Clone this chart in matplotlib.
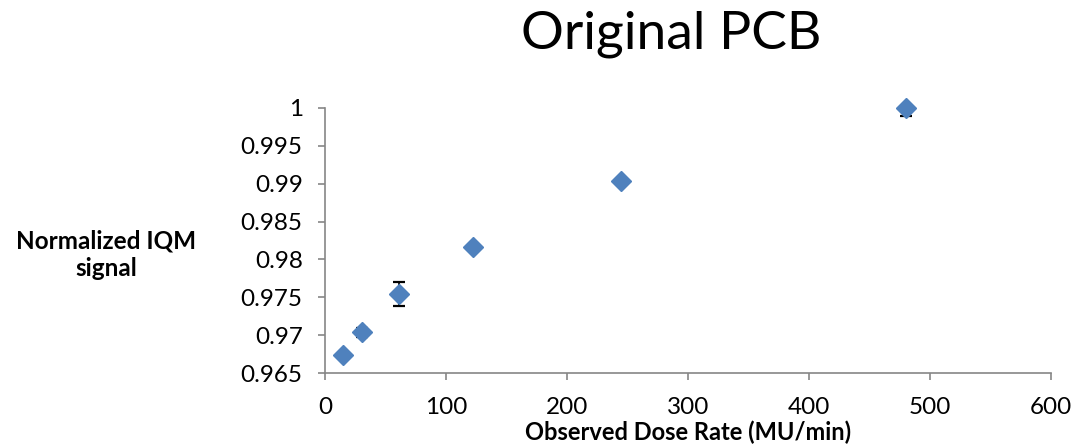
import matplotlib
matplotlib.use("Agg")
import matplotlib.pyplot as plt

dose_rate = [15, 30.5, 61, 122, 245, 480]
iqm_signal = [0.9674, 0.9704, 0.9754, 0.9816, 0.9904, 1.0]
iqm_err = [0.0001, 0.0006, 0.0016, 0.0002, 0.0002, 0.0011]
x_ticks = [0, 100, 200, 300, 400, 500, 600]
y_ticks = [0.965, 0.97, 0.975, 0.98, 0.985, 0.99, 0.995, 1.0]
y_tick_labels = ["0.965", "0.97", "0.975", "0.98", "0.985", "0.99", "0.995", "1"]

plt.rcParams['font.family'] = ['Lato', 'DejaVu Sans']

fig = plt.figure(figsize=(10.8, 4.44), dpi=100)
ax = fig.add_axes([0.3009, 0.1599, 0.6722, 0.5969])

ax.errorbar(dose_rate, iqm_signal, yerr=iqm_err, fmt='none', ecolor='black',
            elinewidth=1.2, capsize=4.5, capthick=1.6, zorder=2)
ax.plot(dose_rate, iqm_signal, linestyle='none', marker='D', markersize=10,
        color='#4F81BD', markeredgecolor='#4F81BD', zorder=3, clip_on=False)

ax.set_xlim(0, 600)
ax.set_ylim(0.965, 1.0)
ax.set_xticks(x_ticks)
ax.set_xticklabels([str(v) for v in x_ticks])
ax.set_yticks(y_ticks)
ax.set_yticklabels(y_tick_labels)

for s in ['top', 'right']:
    ax.spines[s].set_visible(False)
for s in ['left', 'bottom']:
    ax.spines[s].set_color('#868686')
    ax.spines[s].set_linewidth(1.2)
    ax.spines[s].set_zorder(1)
ax.tick_params(axis='both', direction='out', length=5, width=1.2, color='#868686',
               labelsize=17.5, labelcolor='black')
ax.tick_params(axis='x', pad=12.5)
ax.tick_params(axis='y', pad=11)

fig.text(688/1080, 1 - 432/444, 'Observed Dose Rate (MU/min)', fontsize=17,
         fontweight='bold', ha='center', va='center')
fig.text(106/1080, 1 - 255/444, 'Normalized IQM\nsignal', fontsize=17.5, fontweight='bold',
         ha='center', va='center', linespacing=1.25)
fig.text(671/1080, 1 - 34/444, 'Original PCB', fontsize=38.5, ha='center', va='center')

fig.savefig('out.png', dpi=100)
